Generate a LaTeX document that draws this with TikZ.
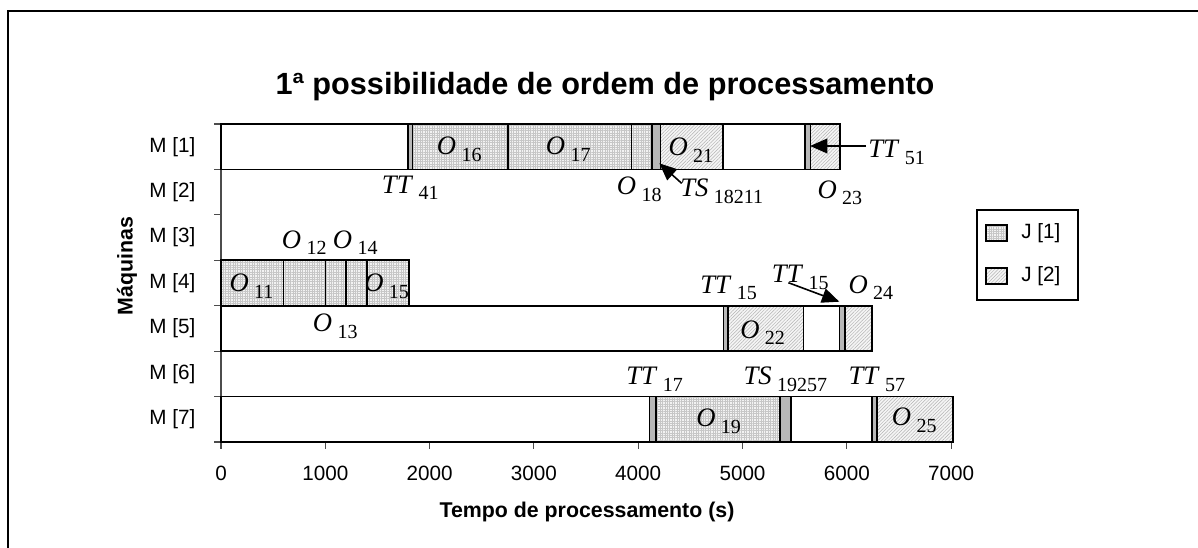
\documentclass[tikz,border=0pt]{standalone}
\usepackage{fontspec}
\setmainfont{Liberation Sans}
\newfontfamily\tnr{Liberation Serif}
\usetikzlibrary{arrows.meta, patterns.meta}
\tikzset{F/.style={draw, line width=1.2pt, fill=white}}
\tikzset{J1/.style={draw, line width=1.2pt, preaction={fill=gray!10}, pattern={Hatch[angle=0,distance=1.8pt,line width=0.3pt]}, pattern color=gray!45}}
\tikzset{J2/.style={draw, line width=1.2pt, preaction={fill=gray!8}, pattern={Lines[angle=45,distance=1.8pt,line width=0.35pt]}, pattern color=gray!60}}
\tikzset{S/.style={draw, line width=1.2pt, fill=black!28}}
\tikzset{L/.style={inner sep=0pt, anchor=base west, font=\tnr\fontsize{20}{22}\selectfont}}
\tikzset{E/.style={draw, line width=1.2pt, -{Triangle[length=13pt,width=11pt]}}}
\tikzset{T/.style={font=\fontsize{15.5}{18}\selectfont}}
\newcommand{\op}[2]{\textit{#1}\hspace{0.2em}\raisebox{-5pt}{\fontsize{15}{16}\selectfont #2}}

\begin{document}
\begin{tikzpicture}[x=0.75pt, y=-0.75pt]
        \useasboundingbox (0,0) rectangle (1198,548);
        %% Frame and title
        \draw[line width=1.5pt] (8,11) rectangle (1210,560);
        \node[font=\bfseries\fontsize{23}{26}\selectfont, anchor=base] (title) at (605,95) {1ª possibilidade de ordem de processamento};
        %% Axes
        \draw[gray!60!black, line width=0.8pt] (221,124) -- (221,442);
        \draw[gray!60!black, line width=0.8pt] (214,124) -- (221,124) (214,169.4) -- (221,169.4)
            (214,214.9) -- (221,214.9) (214,260.3) -- (221,260.3) (214,305.7) -- (221,305.7)
            (214,351.2) -- (221,351.2) (214,396.6) -- (221,396.6) (214,442) -- (221,442);
        \draw[line width=1.1pt] (221,442) -- (951.1,442);
        \draw[gray!60!black, line width=0.8pt] (221,442) -- (221,449) (325.3,442) -- (325.3,449)
            (429.6,442) -- (429.6,449) (533.9,442) -- (533.9,449) (638.2,442) -- (638.2,449)
            (742.5,442) -- (742.5,449) (846.8,442) -- (846.8,449) (951.1,442) -- (951.1,449);
        %% Bars (time in s, rows)
        \begin{scope}[shift={(221,124)}, x=0.078225pt, y=-34.0725pt]
        % M[1]
        \draw[F] (0,0) rectangle (1790,1);
        \draw[S] (1790,0) rectangle (1835,1);
        \draw[J1] (1835,0) rectangle (2750,1);
        \draw[J1] (2750,0) rectangle (3937,1);
        \draw[J1] (3937,0) rectangle (4130,1);
        \draw[S] (4130,0) rectangle (4215,1);
        \draw[J2] (4215,0) rectangle (4810,1);
        \draw[F] (4810,0) rectangle (5600,1);
        \draw[S] (5600,0) rectangle (5650,1);
        \draw[J2] (5650,0) rectangle (5935,1);
        % M[4]
        \draw[J1] (0,3) rectangle (600,4);
        \draw[J1] (600,3) rectangle (1000,4);
        \draw[J1] (1000,3) rectangle (1200,4);
        \draw[J1] (1200,3) rectangle (1400,4);
        \draw[J1] (1400,3) rectangle (1800,4);
        % M[5]
        \draw[F] (0,4) rectangle (4816,5);
        \draw[S] (4816,4) rectangle (4862,5);
        \draw[J2] (4862,4) rectangle (5583,5);
        \draw[F] (5583,4) rectangle (5930,5);
        \draw[S] (5930,4) rectangle (5983,5);
        \draw[J2] (5983,4) rectangle (6240,5);
        % M[7]
        \draw[F] (0,6) rectangle (4107,7);
        \draw[S] (4107,6) rectangle (4170,7);
        \draw[J1] (4170,6) rectangle (5360,7);
        \draw[S] (5360,6) rectangle (5462,7);
        \draw[F] (5462,6) rectangle (6240,7);
        \draw[S] (6240,6) rectangle (6290,7);
        \draw[J2] (6290,6) rectangle (7015,7);
        \end{scope}
        %% Axis labels
        \node[T, anchor=east] (m1) at (200,146.7) {M [1]};
        \node[T, anchor=east] (m2) at (200,192.1) {M [2]};
        \node[T, anchor=east] (m3) at (200,237.6) {M [3]};
        \node[T, anchor=east] (m4) at (200,283) {M [4]};
        \node[T, anchor=east] (m5) at (200,328.4) {M [5]};
        \node[T, anchor=east] (m6) at (200,373.9) {M [6]};
        \node[T, anchor=east] (m7) at (200,419.3) {M [7]};
        \node[T] (x0) at (221,473) {0};
        \node[T] (x1) at (325.3,473) {1000};
        \node[T] (x2) at (429.6,473) {2000};
        \node[T] (x3) at (533.9,473) {3000};
        \node[T] (x4) at (638.2,473) {4000};
        \node[T] (x5) at (742.5,473) {5000};
        \node[T] (x6) at (846.8,473) {6000};
        \node[T] (x7) at (951.1,473) {7000};
        \node[font=\bfseries\fontsize{16}{18}\selectfont, anchor=base] (xlabel) at (587,517) {Tempo de processamento (s)};
        \node[font=\bfseries\fontsize{16}{18}\selectfont, rotate=90] (ylabel) at (127,266) {Máquinas};
        %% Legend
        \draw[line width=1.2pt] (977,210) rectangle (1078,300);
        \draw[J1, line width=0.9pt] (986,225) rectangle (1007,241);
        \draw[J2, line width=0.9pt] (986,268) rectangle (1007,284);
        \node[T, anchor=west, inner sep=0pt] (j1) at (1021,233) {J [1]};
        \node[T, anchor=west, inner sep=0pt] (j2) at (1021,276) {J [2]};
        %% Operation labels
        \node[L] (o16) at (436.7,155) {\op{O}{16}};
        \node[L] (o17) at (545.7,155) {\op{O}{17}};
        \node[L] (o21) at (668.3,156) {\op{O}{21}};
        \node[L] (tt51) at (868,158) {\op{TT}{51}};
        \node[L] (tt41) at (381.7,193.3) {\op{TT}{41}};
        \node[L] (o18) at (616.7,195) {\op{O}{18}};
        \node[L] (ts18211) at (680,196.7) {\op{TS}{18211}};
        \node[L] (o23) at (817.3,198.3) {\op{O}{23}};
        \node[L] (o12) at (281.7,248.3) {\op{O}{12}};
        \node[L] (o14) at (332.7,248.3) {\op{O}{14}};
        \node[L] (o11) at (229.3,291.7) {\op{O}{11}};
        \begin{scope}
        \clip (366,261) rectangle (409,305);
        \node[L] (o15) at (364,291.7) {\op{O}{15}};
        \end{scope}
        \node[L] (o13) at (312.7,331.7) {\op{O}{13}};
        \node[L] (tt15a) at (700,293.3) {\op{TT}{15}};
        \node[L] (tt15b) at (771.7,282.7) {\op{TT}{15}};
        \node[L] (o24) at (848.3,293.3) {\op{O}{24}};
        \node[L] (o22) at (740,338.3) {\op{O}{22}};
        \node[L] (tt17) at (626,385) {\op{TT}{17}};
        \node[L] (ts19257) at (743.3,385) {\op{TS}{19257}};
        \node[L] (tt57) at (848.3,385) {\op{TT}{57}};
        \node[L] (o19) at (696,426.7) {\op{O}{19}};
        \node[L] (o25) at (891.7,426) {\op{O}{25}};
        %% Arrows
        \coordinate (tt51tip) at (810,146);
        \coordinate (ts18211tip) at (659.3,163.3);
        \coordinate (tt15btip) at (839.3,301.7);
        \draw[E] ([xshift=-1.5pt,yshift=9pt]tt51.base west) -- (tt51tip);
        \draw[E] ([xshift=1.3pt,yshift=10pt]ts18211.base west) -- (ts18211tip);
        \draw[E] ([xshift=12.5pt]tt15b.base west) -- (tt15btip);
\end{tikzpicture}
\end{document}
